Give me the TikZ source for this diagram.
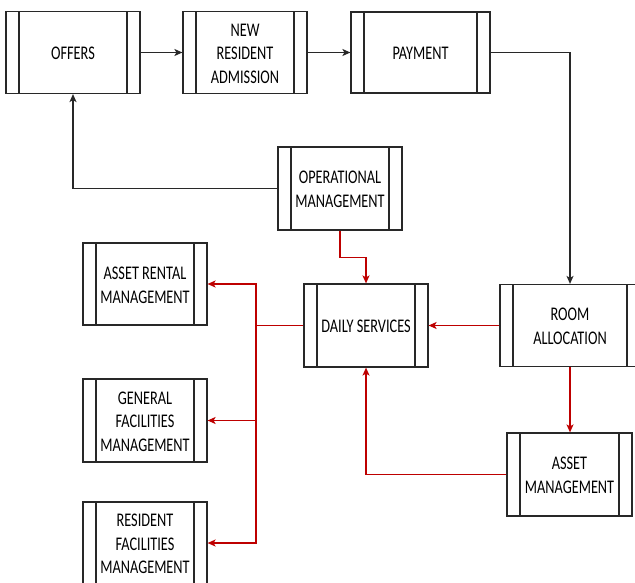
\documentclass[tikz,border=0pt]{standalone}
\usepackage{fontspec}
\usepackage{graphicx}
\setmainfont{Carlito}
\usetikzlibrary{arrows.meta}
\definecolor{flowred}{RGB}{190,0,0}
\definecolor{ink}{RGB}{40,40,40}
% tall, narrow label lettering, set slightly below the box centre
\newcommand{\boxlabel}[1]{\raisebox{0pt}[\dimexpr\height+5pt\relax][\depth]{%
  \scalebox{1}[1.35]{\fontsize{14.3}{17.5}\selectfont
  \begin{tabular}{@{}c@{}}#1\end{tabular}}}}
\tikzset{
  proc/.style={draw=ink, line width=1.2pt, fill=white, inner sep=0pt, text=black,
    path picture={
      \draw[ink, line width=1.2pt]
        ([xshift=13pt]path picture bounding box.north west) --
        ([xshift=13pt]path picture bounding box.south west)
        ([xshift=-13pt]path picture bounding box.north east) --
        ([xshift=-13pt]path picture bounding box.south east);
    }},
  flow/.style={draw=ink, line width=1.3pt, -{Stealth[length=8pt,width=7pt,inset=2pt]}},
  redflow/.style={draw=flowred, line width=1.3pt, -{Stealth[length=8pt,width=7pt,inset=2pt]}},
  redline/.style={draw=flowred, line width=1.3pt},
}
\begin{document}
\begin{tikzpicture}[x=1pt, y=-1pt]
\useasboundingbox (0,0) rectangle (635,583);
\clip (0,0) rectangle (635,583);

% process boxes
\node[proc, minimum width=134pt, minimum height=82pt] (offers) at (73,52.5) {\boxlabel{OFFERS}};
\node[proc, minimum width=124pt, minimum height=82pt] (newres) at (245,52.5) {\boxlabel{NEW\\RESIDENT\\ADMISSION}};
\node[proc, minimum width=139pt, minimum height=81pt] (payment) at (420.5,52.5) {\boxlabel{PAYMENT}};
\node[proc, minimum width=124pt, minimum height=83pt] (opman) at (340,188.5) {\boxlabel{OPERATIONAL\\MANAGEMENT}};
\node[proc, minimum width=124pt, minimum height=83pt] (daily) at (366,325.5) {\boxlabel{DAILY SERVICES}};
\node[proc, minimum width=140pt, minimum height=82pt] (room) at (570,325.5) {\boxlabel{ROOM\\ALLOCATION}};
\node[proc, minimum width=124pt, minimum height=82pt] (assetrent) at (145,284) {\boxlabel{ASSET RENTAL\\MANAGEMENT}};
\node[proc, minimum width=124pt, minimum height=83pt] (general) at (145,420.5) {\boxlabel{GENERAL\\FACILITIES\\MANAGEMENT}};
\node[proc, minimum width=124pt, minimum height=82pt] (resfac) at (145,543) {\boxlabel{RESIDENT\\FACILITIES\\MANAGEMENT}};
\node[proc, minimum width=125pt, minimum height=83pt] (assetmgmt) at (569.5,474.5) {\boxlabel{ASSET\\MANAGEMENT}};

% main admission flow
\draw[flow] (offers.east) -- (newres.west);
\draw[flow] (newres.east) -- (payment.west);
\draw[flow] (payment.east) -| (room.north);
\draw[flow] (opman.west) -| (offers.south);

% service flows
\draw[redflow] (opman.south) -- ++(0,27) -| (daily.north);
\draw[redflow] (room.west) -- (daily.east);
\draw[redflow] (room.south) -- (room.south |- assetmgmt.north);
\draw[redflow] (assetmgmt.west) -| (daily.south);

% distribution bus from daily services
\coordinate (bus) at (256,325.5);
\draw[redline] (daily.west) -- (bus);
\draw[redflow] (bus) |- (assetrent.east);
\draw[redflow] (bus) |- (general.east);
\draw[redflow] (bus) |- (resfac.east);
\end{tikzpicture}
\end{document}
